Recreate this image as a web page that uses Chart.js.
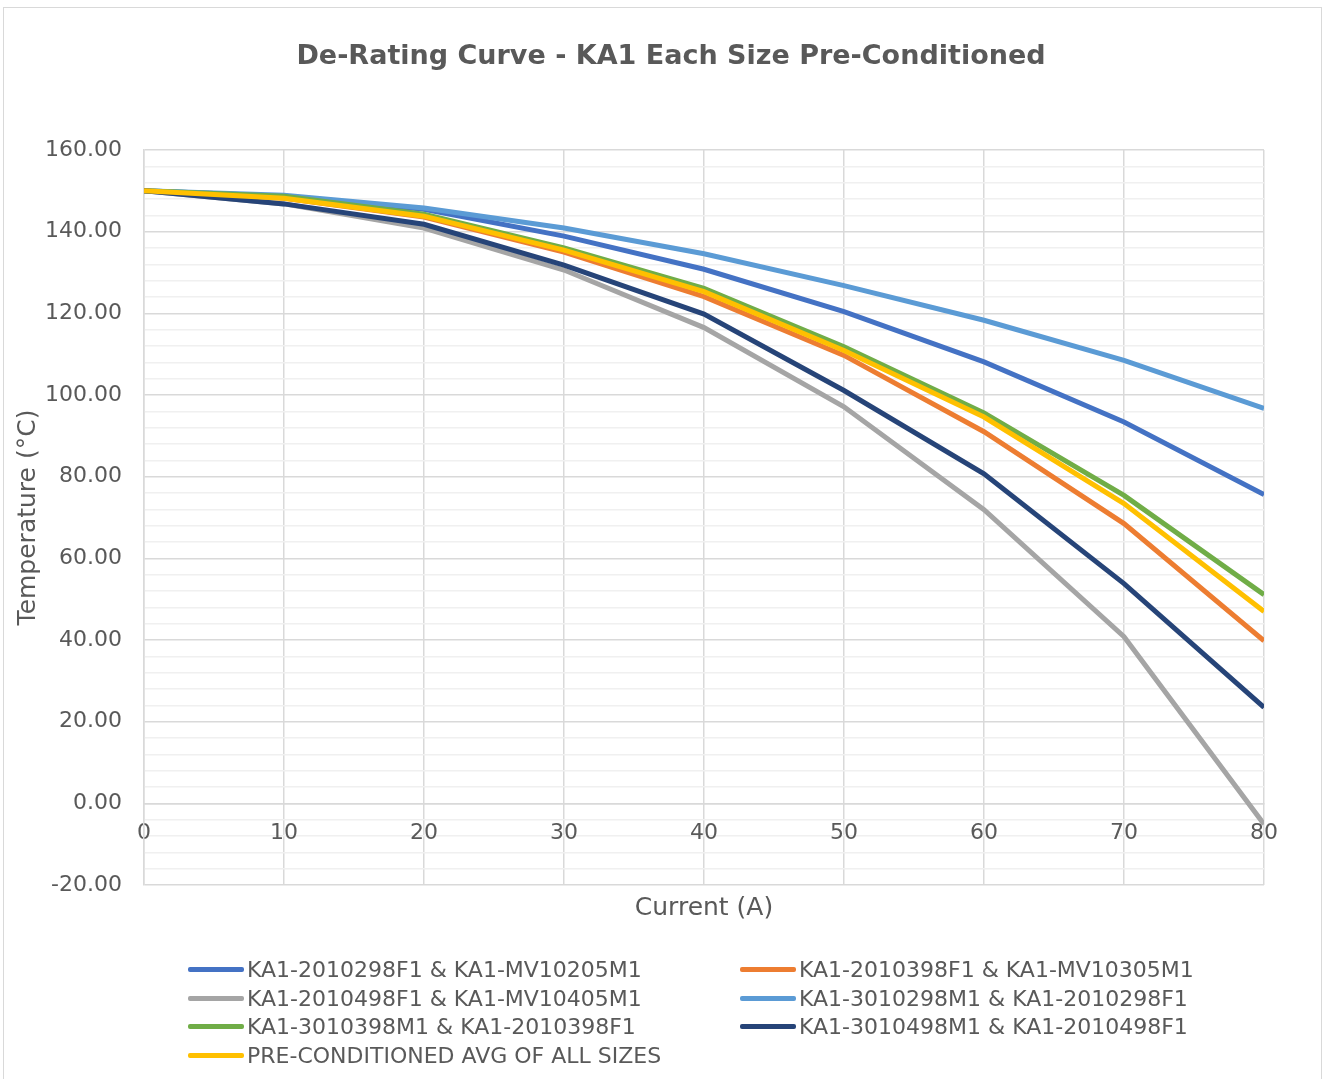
<!DOCTYPE html>
<html>
<head>
<meta charset="utf-8">
<script src="https://cdn.jsdelivr.net/npm/chart.js@4.4.1/dist/chart.umd.min.js"></script>
<style>
  body { margin: 0; background: #fff; font-family: 'DejaVu Sans', sans-serif; }
  #wrap { position: relative; width: 1323px; height: 1079px; overflow: hidden; }
  #frame { position: absolute; left: 3px; top: 7px; width: 1319px; height: 1100px; border: 1.5px solid #d9d9d9; box-sizing: border-box; pointer-events: none; }
  #chart { position: absolute; left: 0; top: 0; }
  #title { position: absolute; left: 0; width: 1342px; top: 38px; text-align: center; color: #595959; font-size: 27px; font-weight: bold; line-height: 34px; white-space: nowrap; }
  #legend { position: absolute; left: 188px; top: 955px; display: grid; grid-template-columns: 552px 520px; }
  .item { display: flex; align-items: center; height: 28.7px; color: #595959; font-size: 22px; white-space: nowrap; }
  .swatch { width: 56px; height: 5px; border-radius: 2px; margin-right: 3px; }
</style>
</head>
<body>
<div id="wrap">
  <canvas id="chart" width="1323" height="1079"></canvas>
  <div id="frame"></div>
  <div id="title">De-Rating Curve - KA1 Each Size Pre-Conditioned</div>
  <div id="legend"></div>
</div>
<script>
// Akım değerleri (A)
const currents = [0, 10, 20, 30, 40, 50, 60, 70, 80];

// Sıcaklık değerleri (°C), her seri için
const ka2010298 = [150, 148.7, 145.5, 138.9, 130.8, 120.4, 108.1, 93.4, 75.6];
const ka2010398 = [150, 148.2, 143.6, 135.0, 124.1, 109.7, 91.0, 68.5, 39.8];
const ka2010498 = [150, 146.8, 140.9, 130.6, 116.5, 97.1, 71.9, 40.8, -5.1];
const ka3010298 = [150, 148.9, 145.8, 140.9, 134.6, 126.8, 118.3, 108.5, 96.7];
const ka3010398 = [150, 148.7, 144.3, 136.0, 126.1, 111.8, 95.6, 75.4, 51.1];
const ka3010498 = [150, 146.8, 141.8, 131.8, 119.8, 101.1, 80.7, 53.8, 23.5];
const avgAll    = [150, 148.2, 143.8, 135.5, 125.3, 110.9, 94.6, 73.4, 47.0];

const seriesNames = [
    'KA1-2010298F1 & KA1-MV10205M1',
    'KA1-2010398F1 & KA1-MV10305M1',
    'KA1-2010498F1 & KA1-MV10405M1',
    'KA1-3010298M1 & KA1-2010298F1',
    'KA1-3010398M1 & KA1-2010398F1',
    'KA1-3010498M1 & KA1-2010498F1',
    'PRE-CONDITIONED AVG OF ALL SIZES'
];
const seriesValues = [ka2010298, ka2010398, ka2010498, ka3010298, ka3010398, ka3010498, avgAll];
const seriesColors = ['#4472C4', '#ED7D31', '#A5A5A5', '#5B9BD5', '#70AD47', '#264478', '#FFC000'];

const textColor = '#595959';
const majorGrid = '#d9d9d9';
const minorGrid = '#f0f0f0';
const fontName = 'DejaVu Sans';

const datasets = seriesValues.map((vals, i) => ({
    label: seriesNames[i],
    data: currents.map((c, j) => ({ x: c, y: vals[j] })),
    borderColor: seriesColors[i],
    backgroundColor: seriesColors[i],
    borderWidth: 5,
    pointRadius: 0,
    tension: 0,
    order: seriesValues.length - 1 - i // sonraki seriler üstte
}));

const ctx = document.getElementById('chart').getContext('2d');
new Chart(ctx, {
    type: 'line',
    data: { datasets },
    options: {
        responsive: false,
        animation: false,
        layout: { padding: { left: 13, right: 59, top: 150, bottom: 156 } },
        plugins: {
            legend: { display: false },
            tooltip: { enabled: false }
        },
        scales: {
            x: {
                type: 'linear',
                position: { y: 0 },
                min: 0,
                max: 80,
                ticks: {
                    stepSize: 10,
                    color: textColor,
                    padding: 17,
                    font: { family: fontName, size: 22 }
                },
                grid: { color: majorGrid, lineWidth: 1.5, drawTicks: false },
                border: { color: majorGrid, width: 1.5 }
            },
            x2: {
                type: 'linear',
                position: 'bottom',
                min: 0,
                max: 80,
                ticks: { display: false },
                grid: { display: false, drawTicks: false },
                border: { display: false },
                title: {
                    display: true,
                    text: 'Current (A)',
                    color: textColor,
                    font: { family: fontName, size: 25 },
                    padding: { top: 8, bottom: 0 }
                }
            },
            y: {
                min: -20,
                max: 160,
                afterFit: (scale) => { scale.width = 131; },
                ticks: {
                    stepSize: 4,
                    autoSkip: false,
                    color: textColor,
                    padding: 22,
                    font: { family: fontName, size: 22 },
                    callback: (v) => (v % 20 === 0 ? v.toFixed(2) : '')
                },
                grid: {
                    drawTicks: false,
                    lineWidth: 1.5,
                    color: (c) => (c.tick && c.tick.value % 20 === 0 ? majorGrid : minorGrid)
                },
                border: { color: majorGrid, width: 1.5 },
                title: {
                    display: true,
                    text: 'Temperature (°C)',
                    color: textColor,
                    font: { family: fontName, size: 25 },
                    padding: { top: 0, bottom: 0 }
                }
            }
        }
    }
});

// HTML lejantı iki sütun halinde oluştur
const legendEl = document.getElementById('legend');
seriesNames.forEach((name, i) => {
    const item = document.createElement('div');
    item.className = 'item';
    item.innerHTML = `<span class="swatch" style="background:${seriesColors[i]}"></span><span>${name}</span>`;
    legendEl.appendChild(item);
});
</script>
</body>
</html>
